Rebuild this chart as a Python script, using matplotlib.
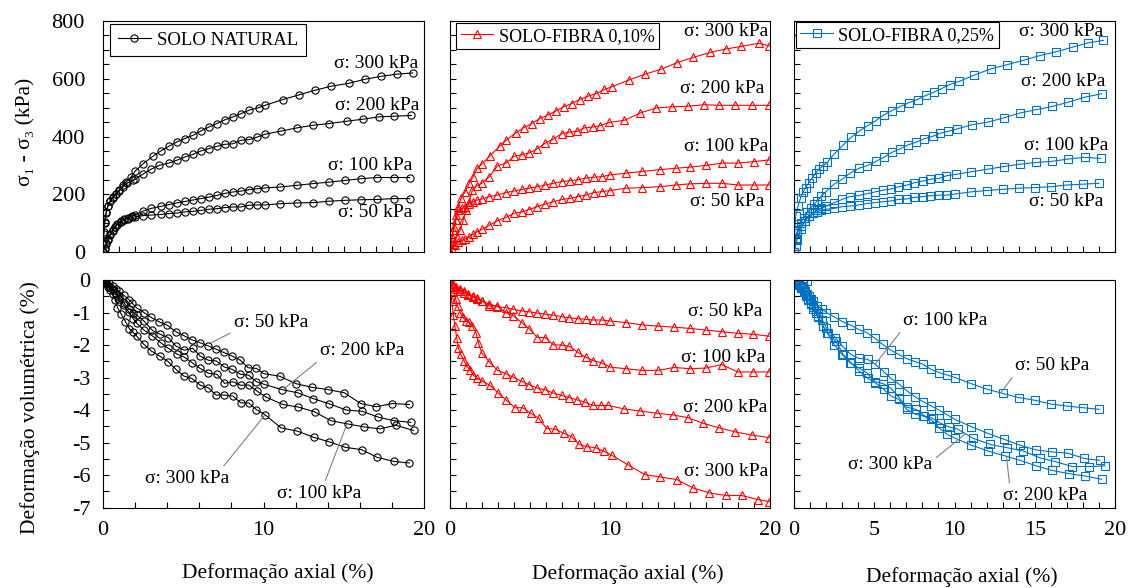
import matplotlib
matplotlib.use("Agg")
import matplotlib.pyplot as plt
from matplotlib.ticker import MultipleLocator, NullFormatter

plt.rcParams["font.family"] = ["Liberation Serif", "DejaVu Serif"]
plt.rcParams["axes.unicode_minus"] = False

BLACK, RED, BLUE = "#000000", "#FF0000", "#0070C0"
PRESSURES = ["50", "100", "200", "300"]

# ---- SOLO NATURAL: deviator stress (kPa) vs axial strain (%) ----
nat_q_x50 = [0, 0.1, 0.2, 0.3, 0.45, 0.6, 0.75, 0.9, 1.1, 1.3, 1.55, 1.8, 2.0, 2.5, 3.0, 3.6, 4.1, 4.6, 5.1, 5.6,
             6.1, 6.6, 7.1, 7.6, 8.1, 8.6, 9.1, 9.6, 10.1, 11.0, 12.1, 13.1, 14.1, 15.1, 16.1, 17.1, 18.1, 19.1]
nat_q_y50 = [0, 12, 28, 42, 60, 72, 85, 95, 103, 110, 116, 120, 122, 126, 128, 130, 133, 135, 139, 141,
             144, 148, 150, 154, 156, 156, 162, 163, 163, 167, 170, 171, 176, 179, 181, 182, 185, 185]
nat_q_x100 = [0, 0.1, 0.2, 0.3, 0.45, 0.6, 0.75, 0.9, 1.1, 1.3, 1.55, 1.8, 2.0, 2.5, 3.0, 3.6, 4.1, 4.6, 5.1, 5.6,
              6.1, 6.6, 7.1, 7.6, 8.1, 8.6, 9.1, 9.6, 10.1, 11.0, 12.1, 13.1, 14.1, 15.1, 16.1, 17.1, 18.1, 19.1]
nat_q_y100 = [0, 13, 30, 45, 62, 75, 88, 98, 106, 113, 119, 124, 128, 142, 151, 158, 164, 170, 175, 180,
              185, 190, 196, 203, 208, 211, 216, 219, 222, 225, 231, 237, 242, 248, 254, 258, 258, 258]
nat_q_x200 = [0, 0.05, 0.1, 0.2, 0.3, 0.45, 0.6, 0.8, 1.0, 1.25, 1.5, 1.85, 2.0, 2.5, 3.0, 3.5, 4.1, 4.6, 5.1,
              5.6, 6.1, 6.6, 7.1, 7.6, 8.1, 8.6, 9.1, 9.6, 10.1, 11.1, 12.1, 13.1, 14.1, 15.2, 16.2, 17.2, 18.1, 19.2]
nat_q_y200 = [0, 64, 100, 135, 158, 175, 188, 200, 211, 226, 238, 248, 252, 270, 287, 300, 308, 318, 329,
              338, 350, 358, 366, 373, 375, 387, 389, 398, 408, 419, 430, 439, 445, 453, 460, 468, 470, 473]
nat_q_x300 = [0, 0.05, 0.1, 0.2, 0.3, 0.45, 0.6, 0.8, 1.0, 1.25, 1.45, 1.75, 2.0, 2.5, 3.1, 3.6, 4.1, 4.6, 5.1,
              5.6, 6.1, 6.6, 7.1, 7.6, 8.1, 8.6, 9.1, 9.7, 10.1, 11.2, 12.2, 13.2, 14.2, 15.3, 16.3, 17.3, 18.3, 19.3]
nat_q_y300 = [0, 70, 103, 138, 160, 178, 190, 202, 214, 231, 242, 260, 280, 306, 331, 350, 366, 381, 393,
              404, 419, 433, 445, 458, 468, 479, 491, 500, 508, 528, 544, 560, 574, 584, 598, 608, 616, 620]

# ---- SOLO NATURAL: volumetric strain (%) ----
nat_v_x50 = [0, 0.2, 0.4, 0.6, 0.8, 1.0, 1.3, 1.6, 1.8, 2.1, 2.55, 3.0, 3.5, 4.0, 4.54, 5.06, 5.54, 6.05, 6.57,
             7.05, 7.53, 8.05, 8.56, 9.04, 9.56, 10.0, 11.0, 12.03, 13.0, 14.0, 15.04, 16.05, 17.03, 18.03, 19.08]
nat_v_y50 = [0, -0.05, -0.1, -0.18, -0.27, -0.35, -0.47, -0.6, -0.7, -0.86, -1.0, -1.15, -1.29, -1.39, -1.59,
             -1.72, -1.84, -1.93, -2.03, -2.13, -2.23, -2.34, -2.47, -2.7, -2.72, -2.88, -2.96, -3.19, -3.3,
             -3.37, -3.47, -3.8, -3.9, -3.8, -3.83]
nat_v_x100 = [0, 0.2, 0.4, 0.6, 0.8, 1.0, 1.3, 1.6, 1.9, 2.1, 2.55, 3.08, 3.6, 4.06, 4.58, 5.06, 5.54, 6.05,
              6.57, 7.1, 7.57, 8.1, 8.58, 9.08, 9.6, 10.15, 11.2, 12.18, 13.2, 14.2, 15.25, 16.26, 17.26, 18.24, 19.35]
nat_v_y100 = [0, -0.1, -0.2, -0.32, -0.45, -0.58, -0.78, -0.98, -1.2, -1.33, -1.54, -1.72, -1.93, -2.1, -2.27,
              -2.37, -2.54, -2.72, -2.87, -2.9, -3.18, -3.13, -3.24, -3.23, -3.42, -3.6, -3.83, -3.91, -4.06,
              -4.33, -4.43, -4.52, -4.58, -4.47, -4.63]
nat_v_x200 = [0, 0.2, 0.4, 0.6, 0.8, 1.0, 1.3, 1.6, 1.9, 2.1, 2.55, 3.08, 3.56, 4.06, 4.54, 5.06, 5.59, 6.05,
              6.57, 7.05, 7.57, 8.05, 8.56, 9.08, 9.56, 10.04, 11.13, 12.13, 13.1, 14.1, 15.15, 16.15, 17.15, 18.14, 19.18]
nat_v_y200 = [0, -0.08, -0.17, -0.28, -0.4, -0.52, -0.7, -0.88, -1.0, -1.08, -1.26, -1.55, -1.67, -1.77, -2.03,
              -2.16, -2.1, -2.34, -2.47, -2.49, -2.68, -2.75, -2.9, -2.93, -3.13, -3.21, -3.37, -3.47, -3.65,
              -3.81, -4.0, -4.04, -4.22, -4.33, -4.38]
nat_v_x300 = [0, 0.15, 0.3, 0.45, 0.6, 0.75, 0.9, 1.14, 1.4, 1.65, 1.85, 2.09, 2.55, 3.0, 3.53, 4.06, 4.54,
              5.06, 5.54, 6.07, 6.57, 7.05, 7.57, 8.1, 8.58, 9.08, 9.56, 10.08, 11.09, 12.11, 13.12, 14.1, 15.1,
              16.11, 17.1, 18.1, 19.08]
nat_v_y300 = [0, -0.1, -0.2, -0.3, -0.42, -0.6, -0.85, -1.05, -1.28, -1.5, -1.6, -1.72, -1.98, -2.18, -2.34,
              -2.51, -2.75, -2.96, -3.03, -3.24, -3.32, -3.54, -3.54, -3.57, -3.78, -3.78, -3.99, -4.14, -4.55,
              -4.65, -4.84, -4.98, -5.15, -5.22, -5.46, -5.58, -5.63]

# ---- SOLO-FIBRA 0,10%: deviator stress ----
f10_q_x50 = [0, 0.1, 0.3, 0.52, 0.73, 0.95, 1.2, 1.45, 1.7, 1.98, 2.46, 2.96, 3.5, 4.0, 4.5, 4.95, 5.45, 5.95,
             6.45, 7.0, 7.5, 8.0, 8.5, 9.0, 9.5, 10.0, 11.0, 12.0, 13.1, 14.1, 15.0, 16.0, 17.0, 18.0, 19.0, 19.96]
f10_q_y50 = [0, 12, 23, 35, 41, 46, 52, 62, 70, 78, 93, 108, 120, 134, 139, 147, 157, 166,
             174, 182, 186, 192, 197, 206, 209, 213, 221, 223, 226, 232, 236, 238, 238, 232, 232, 232]
f10_q_x100 = [0, 0.2, 0.37, 0.52, 0.73, 0.95, 1.2, 1.45, 1.7, 1.98, 2.46, 2.96, 3.5, 4.0, 4.5, 4.95, 5.45, 5.95,
              6.45, 7.0, 7.5, 8.0, 8.5, 9.0, 9.5, 10.0, 11.0, 12.0, 13.1, 14.1, 15.0, 16.0, 17.0, 18.0, 19.0, 19.96]
f10_q_y100 = [0, 75, 110, 145, 151, 157, 168, 174, 180, 183, 192, 197, 206, 211, 217, 221, 226, 232,
              238, 244, 247, 250, 256, 259, 261, 267, 273, 279, 285, 290, 294, 300, 308, 308, 313, 319]
f10_q_x200 = [0, 0.2, 0.42, 0.63, 0.83, 1.0, 1.2, 1.4, 1.67, 1.98, 2.46, 2.96, 3.5, 4.0, 4.5, 4.95, 5.45, 5.95,
              6.45, 6.98, 7.45, 7.95, 8.4, 8.95, 9.4, 9.95, 10.9, 11.9, 12.9, 13.9, 14.9, 15.9, 16.8, 17.8, 18.9, 19.96]
f10_q_y200 = [0, 29, 52, 75, 110, 145, 174, 215, 229, 238, 261, 298, 308, 331, 337, 343, 357, 377,
              391, 410, 415, 418, 430, 433, 438, 449, 456, 482, 499, 503, 505, 510, 508, 508, 508, 508]
f10_q_x300 = [0, 0.12, 0.25, 0.37, 0.5, 0.7, 0.95, 1.2, 1.45, 1.7, 2.0, 2.5, 3.1, 3.5, 4.1, 4.6, 5.1, 5.6, 6.1,
              6.6, 7.1, 7.6, 8.1, 8.65, 9.1, 9.65, 10.15, 11.2, 12.2, 13.2, 14.2, 15.2, 16.25, 17.25, 18.2, 19.3, 19.96]
f10_q_y300 = [0, 52, 87, 128, 157, 186, 209, 238, 261, 290, 305, 333, 366, 387, 412, 430, 445, 462, 474,
              488, 503, 514, 528, 540, 548, 563, 573, 596, 616, 633, 656, 674, 691, 703, 712, 723, 714]

# ---- SOLO-FIBRA 0,10%: volumetric strain ----
f10_v_x50 = [0, 0.17, 0.38, 0.63, 0.9, 1.15, 1.42, 1.67, 1.98, 2.46, 2.96, 3.48, 3.96, 4.48, 4.96, 5.46, 5.96,
             6.46, 6.98, 7.46, 7.98, 8.48, 8.96, 9.48, 10.0, 11.0, 11.98, 13.02, 14.02, 15.0, 15.98, 16.98, 17.98,
             18.96, 19.96]
f10_v_y50 = [0, -0.18, -0.28, -0.33, -0.41, -0.46, -0.52, -0.59, -0.64, -0.74, -0.82, -0.85, -0.9, -0.95, -0.98,
             -1.02, -1.05, -1.08, -1.13, -1.16, -1.19, -1.21, -1.23, -1.23, -1.26, -1.31, -1.38, -1.42, -1.45,
             -1.49, -1.54, -1.59, -1.64, -1.67, -1.73]
f10_v_x100 = [0, 0.17, 0.38, 0.63, 0.9, 1.15, 1.42, 1.67, 1.98, 2.46, 2.96, 3.48, 3.96, 4.48, 4.96, 5.46, 5.96,
              6.46, 6.98, 7.46, 7.98, 8.48, 8.96, 9.48, 10.0, 11.0, 11.98, 13.02, 14.02, 15.0, 15.98, 16.98,
              17.98, 18.96, 19.96]
f10_v_y100 = [0, -0.12, -0.21, -0.28, -0.33, -0.43, -0.49, -0.56, -0.64, -0.8, -0.8, -1.0, -1.1, -1.31, -1.5,
              -1.77, -1.77, -2.0, -2.0, -2.04, -2.22, -2.38, -2.48, -2.55, -2.68, -2.73, -2.78, -2.78, -2.69,
              -2.73, -2.71, -2.6, -2.83, -2.83, -2.83]
f10_v_x200 = [0, 0.21, 0.35, 0.48, 0.63, 0.79, 1.0, 1.21, 1.4, 1.63, 1.77, 1.98, 2.46, 2.96, 3.48, 3.96, 4.48,
              4.96, 5.46, 5.96, 6.46, 6.98, 7.46, 7.96, 8.44, 8.96, 9.44, 9.9, 10.9, 11.88, 12.92, 13.92, 14.9,
              15.83, 16.83, 17.8, 18.85, 19.96]
f10_v_y200 = [0, -0.33, -0.59, -0.8, -1.0, -1.14, -1.26, -1.29, -1.42, -1.62, -1.93, -2.24, -2.52, -2.78, -2.88,
              -2.99, -3.12, -3.22, -3.33, -3.38, -3.48, -3.55, -3.62, -3.69, -3.76, -3.86, -3.86, -3.86, -3.97,
              -4.03, -4.1, -4.15, -4.24, -4.41, -4.55, -4.67, -4.77, -4.85]
f10_v_x300 = [0, 0.1, 0.21, 0.31, 0.42, 0.52, 0.67, 0.88, 1.04, 1.25, 1.46, 1.71, 1.98, 2.5, 3.02, 3.5, 4.06,
              4.54, 5.04, 5.56, 6.04, 6.56, 7.13, 7.6, 8.08, 8.58, 9.1, 9.63, 10.1, 11.1, 12.19, 13.13, 14.17,
              15.2, 16.2, 17.23, 18.23, 19.27, 19.96]
f10_v_y300 = [0, -0.64, -1.07, -1.42, -1.78, -2.09, -2.29, -2.48, -2.65, -2.76, -2.93, -3.02, -3.1, -3.24,
              -3.48, -3.69, -3.93, -3.93, -4.1, -4.26, -4.57, -4.59, -4.72, -4.82, -5.06, -5.13, -5.16, -5.27,
              -5.39, -5.68, -5.99, -6.06, -6.14, -6.4, -6.55, -6.63, -6.63, -6.76, -6.82]

# ---- SOLO-FIBRA 0,25%: deviator stress ----
f25_q_x50 = [0, 0.1, 0.2, 0.41, 0.66, 0.93, 1.2, 1.45, 1.7, 2.0, 2.5, 3.0, 3.5, 4.04, 4.56, 5.04, 5.55, 6.05,
             6.5, 7.05, 7.5, 8.04, 8.5, 9.05, 9.5, 10.05, 11.0, 12.0, 13.0, 14.0, 15.0, 16.0, 17.0, 18.03, 19.0]
f25_q_y50 = [0, 22, 43, 78, 107, 124, 134, 139, 145, 148, 151, 157, 159, 163, 168, 171, 174, 177,
             182, 184, 189, 192, 195, 197, 197, 201, 208, 213, 217, 221, 223, 226, 232, 235, 238]
f25_q_x100 = [0, 0.1, 0.2, 0.41, 0.66, 0.93, 1.2, 1.45, 1.7, 2.0, 2.5, 3.0, 3.5, 4.04, 4.56, 5.04, 5.55, 6.05,
              6.5, 7.05, 7.5, 8.04, 8.5, 9.05, 9.5, 10.1, 11.05, 12.1, 13.06, 14.05, 15.07, 16.06, 17.1, 18.1, 19.1]
f25_q_y100 = [0, 40, 66, 89, 107, 124, 136, 145, 151, 159, 171, 182, 192, 196, 202, 208, 214, 218,
              226, 232, 240, 246, 252, 255, 264, 269, 278, 287, 296, 304, 310, 314, 322, 328, 324]
f25_q_x200 = [0, 0.1, 0.2, 0.41, 0.62, 0.83, 1.04, 1.24, 1.45, 1.7, 1.97, 2.5, 3.0, 3.5, 4.04, 4.56, 5.1, 5.6,
              6.1, 6.6, 7.1, 7.6, 8.1, 8.65, 9.1, 9.6, 10.15, 11.1, 12.1, 13.1, 14.05, 15.1, 16.1, 17.1, 18.1, 19.17]
f25_q_y200 = [0, 45, 72, 101, 118, 138, 153, 165, 177, 194, 208, 235, 252, 273, 290, 299, 314, 328,
              345, 357, 371, 380, 392, 401, 411, 418, 426, 441, 450, 465, 481, 493, 504, 519, 536, 548]
f25_q_x300 = [0, 0.05, 0.1, 0.25, 0.41, 0.58, 0.72, 0.93, 1.14, 1.35, 1.55, 1.8, 2.07, 2.5, 3.07, 3.56, 4.1, 4.6,
              5.1, 5.6, 6.1, 6.6, 7.15, 7.7, 8.2, 8.7, 9.2, 9.7, 10.3, 11.2, 12.3, 13.3, 14.3, 15.3, 16.3, 17.4,
              18.3, 19.27]
f25_q_y300 = [0, 75, 124, 159, 188, 208, 223, 240, 258, 273, 287, 298, 310, 339, 371, 397, 420, 438,
              455, 475, 490, 503, 517, 528, 542, 553, 566, 580, 591, 612, 635, 649, 664, 680, 693, 710,
              724, 733]

# ---- SOLO-FIBRA 0,25%: volumetric strain ----
f25_v_x50 = [0, 0.1, 0.21, 0.32, 0.42, 0.55, 0.69, 0.82, 0.94, 1.08, 1.21, 1.46, 1.73, 2.02, 2.5, 3.02, 3.54,
             4.02, 4.54, 5.04, 5.52, 6.04, 6.52, 7.02, 7.54, 8.02, 8.54, 9.06, 9.52, 10.04, 11.04, 12.02, 13.02,
             14.02, 15.0, 16.04, 17.02, 18.02, 19.02]
f25_v_y50 = [0, -0.04, -0.08, -0.13, -0.18, -0.26, -0.34, -0.42, -0.49, -0.57, -0.65, -0.8, -0.88, -1.0, -1.13,
             -1.28, -1.39, -1.52, -1.62, -1.79, -1.98, -2.16, -2.29, -2.42, -2.51, -2.59, -2.75, -2.85, -2.92,
             -3.0, -3.19, -3.36, -3.49, -3.62, -3.7, -3.82, -3.88, -3.93, -3.98]
f25_v_x100 = [0, 0.15, 0.3, 0.45, 0.6, 0.83, 1.0, 1.2, 1.5, 1.75, 2.02, 2.56, 3.02, 3.54, 4.02, 4.58, 5.06,
              5.58, 6.04, 6.56, 7.04, 7.56, 8.02, 8.54, 9.06, 9.55, 10.04, 11.04, 12.08, 13.08, 14.06, 15.1,
              16.08, 17.08, 18.06, 19.06]
f25_v_y100 = [0, -0.05, -0.12, -0.2, -0.3, -0.03, -0.6, -0.78, -1.0, -1.22, -1.47, -1.77, -2.03, -2.29, -2.41,
              -2.44, -2.59, -2.82, -3.03, -3.21, -3.41, -3.6, -3.74, -3.87, -4.01, -4.15, -4.29, -4.51, -4.72,
              -4.9, -5.08, -5.23, -5.29, -5.33, -5.49, -5.55]
f25_v_x200 = [0, 0.15, 0.3, 0.45, 0.6, 0.75, 0.9, 1.05, 1.2, 1.35, 1.5, 1.8, 2.1, 2.6, 3.06, 3.54, 4.06, 4.58,
              5.06, 5.58, 6.04, 6.52, 7.02, 7.56, 8.02, 8.54, 9.06, 9.54, 10.04, 11.04, 12.08, 13.13, 14.1, 15.1,
              16.08, 17.14, 18.13, 19.17]
f25_v_y200 = [0, -0.07, -0.15, -0.26, -0.38, -0.5, -0.62, -0.75, -0.88, -1.0, -1.15, -1.42, -1.62, -1.88, -2.29,
              -2.54, -2.8, -3.02, -3.16, -3.36, -3.57, -3.67, -3.98, -4.13, -4.18, -4.29, -4.56, -4.75, -4.87,
              -5.08, -5.26, -5.41, -5.55, -5.72, -5.86, -5.96, -6.03, -6.13]
f25_v_x300 = [0, 0.15, 0.3, 0.45, 0.6, 0.75, 0.9, 1.05, 1.2, 1.35, 1.5, 1.8, 2.05, 2.52, 3.02, 3.5, 4.02, 4.52,
              5.06, 5.56, 6.04, 6.56, 7.02, 7.6, 8.13, 8.65, 9.1, 9.65, 10.21, 11.15, 12.23, 13.27, 14.27, 15.31,
              16.29, 17.35, 18.38, 19.38]
f25_v_y300 = [0, -0.07, -0.15, -0.25, -0.35, -0.46, -0.58, -0.7, -0.82, -0.96, -1.1, -1.4, -1.62, -2.0, -2.3,
              -2.55, -2.7, -2.85, -3.13, -3.19, -3.33, -3.62, -3.91, -3.98, -4.18, -4.26, -4.4, -4.52, -4.59,
              -4.87, -5.06, -5.16, -5.26, -5.47, -5.59, -5.74, -5.74, -5.72]

panels = [
    # (color, marker, legend label, stress curves, volume curves)
    (BLACK, "o", "SOLO NATURAL",
     [(nat_q_x50, nat_q_y50), (nat_q_x100, nat_q_y100), (nat_q_x200, nat_q_y200), (nat_q_x300, nat_q_y300)],
     [(nat_v_x50, nat_v_y50), (nat_v_x100, nat_v_y100), (nat_v_x200, nat_v_y200), (nat_v_x300, nat_v_y300)]),
    (RED, "^", "SOLO-FIBRA 0,10%",
     [(f10_q_x50, f10_q_y50), (f10_q_x100, f10_q_y100), (f10_q_x200, f10_q_y200), (f10_q_x300, f10_q_y300)],
     [(f10_v_x50, f10_v_y50), (f10_v_x100, f10_v_y100), (f10_v_x200, f10_v_y200), (f10_v_x300, f10_v_y300)]),
    (BLUE, "s", "SOLO-FIBRA 0,25%",
     [(f25_q_x50, f25_q_y50), (f25_q_x100, f25_q_y100), (f25_q_x200, f25_q_y200), (f25_q_x300, f25_q_y300)],
     [(f25_v_x50, f25_v_y50), (f25_v_x100, f25_v_y100), (f25_v_x200, f25_v_y200), (f25_v_x300, f25_v_y300)]),
]

# label placement, top row: (x right edge, y centre) per pressure
top_labels = [
    {"300": (19.63, 652), "200": (19.69, 507), "100": (19.3, 300), "50": (19.3, 138)},
    {"300": (19.88, 762), "200": (19.63, 567), "100": (19.88, 365), "50": (19.63, 174)},
    {"300": (19.25, 765), "200": (19.38, 591), "100": (19.57, 369), "50": (19.25, 174)},
]
# bottom row: (text centre, point on curve or None, relpos of leader start)
bottom_labels = [
    {"50": ((10.5, -1.31), (6.74, -1.93), (0, 0)),
     "200": ((16.17, -2.18), (11.34, -3.32), (0, 0)),
     "300": ((5.23, -6.1), (10.08, -4.16), (0.9, 1)),
     "100": ((13.49, -6.56), (15.2, -4.43), (0.55, 1))},
    {"50": ((17.2, -0.97), None, None),
     "100": ((17.05, -2.39), None, None),
     "200": ((17.2, -3.91), None, None),
     "300": ((17.27, -5.89), None, None)},
    {"100": ((9.41, -1.24), (5.06, -2.59), (0, 0)),
     "50": ((16.09, -2.62), (12.9, -3.46), (0, 0)),
     "300": ((6.0, -5.67), (10.63, -4.75), (1, 0.7)),
     "200": ((15.66, -6.63), (13.23, -5.41), (0.08, 1))},
]

fig = plt.figure(figsize=(11.31, 5.88), dpi=100)
lefts = [103 / 1131, 450 / 1131, 794 / 1131]
widths = [321 / 1131, 320 / 1131, 321 / 1131]
legend_anchor = [(0.022, 0.987), (0.019, 0.99), (0.006, 0.995)]
vol_xlabel_step = [10, 10, 5]
vol_xminor = [2, 1, 1]
xlabel_pos = [(278, 573), (628, 574), (962, 577)]

style = dict(lw=0.8, ms=5.2, mew=0.8, mfc="none")
tick_kw = dict(direction="in", length=4, width=0.8, labelsize=16, top=False, right=False)

for i, (color, marker, name, qcurves, vcurves) in enumerate(panels):
    axq = fig.add_axes([lefts[i], 0.5714, widths[i], 0.3929])
    axv = fig.add_axes([lefts[i], 0.1369, widths[i], 0.3869])

    for p, (x, y) in zip(PRESSURES, qcurves):
        axq.plot(x, y, color=color, marker=marker, label=name if p == "50" else None, **style)
        tx, ty = top_labels[i][p]
        axq.text(tx, ty, f"σ: {p} kPa", ha="right", va="center", fontsize=14)
    for p, (x, y) in zip(PRESSURES, vcurves):
        axv.plot(x, y, color=color, marker=marker, **style)
        txt, xy, rel = bottom_labels[i][p]
        if xy is None:
            axv.text(*txt, f"σ: {p} kPa", ha="center", va="center", fontsize=14)
        else:
            axv.annotate(f"σ: {p} kPa", xy=xy, xytext=txt, ha="center", va="center", fontsize=14,
                         arrowprops=dict(arrowstyle="-", color="#808080", lw=0.8, relpos=rel,
                                         shrinkA=1, shrinkB=0))

    axq.set_xlim(0, 20)
    axq.set_ylim(0, 800)
    axq.xaxis.set_major_locator(MultipleLocator(1))
    axq.xaxis.set_major_formatter(NullFormatter())
    axq.yaxis.set_major_locator(MultipleLocator(200))
    axq.yaxis.set_minor_locator(MultipleLocator(50))
    axq.tick_params(which="both", **tick_kw)
    axq.tick_params(axis="y", which="major", pad=13)

    axv.set_xlim(0, 20)
    axv.set_ylim(-7, 0)
    axv.xaxis.set_major_locator(MultipleLocator(vol_xlabel_step[i]))
    axv.xaxis.set_minor_locator(MultipleLocator(vol_xminor[i]))
    axv.yaxis.set_major_locator(MultipleLocator(1))
    axv.yaxis.set_minor_locator(MultipleLocator(0.5))
    axv.tick_params(which="both", **tick_kw)
    axv.tick_params(axis="x", which="major", pad=10)
    axv.tick_params(axis="y", which="major", pad=9)

    if i > 0:
        axq.yaxis.set_major_formatter(NullFormatter())
        axv.yaxis.set_major_formatter(NullFormatter())

    for ax in (axq, axv):
        for s in ax.spines.values():
            s.set_linewidth(0.8)

    leg = axq.legend(loc="upper left", bbox_to_anchor=legend_anchor[i], borderaxespad=0,
                     fontsize=13.5 if i == 0 else 13, fancybox=False, framealpha=1, edgecolor="black",
                     handlelength=1.8, handletextpad=0.3, borderpad=0.4 if i == 0 else 0.25)
    leg.get_frame().set_linewidth(0.8)

    fx, fy = xlabel_pos[i]
    fig.text(fx / 1131, 1 - fy / 588, "Deformação axial (%)", ha="center", va="center", fontsize=15.5)

fig.text(26 / 1131, 1 - 132 / 588, "σ₁ - σ₃ (kPa)", rotation=90, ha="center", va="center", fontsize=15.5)
fig.text(30 / 1131, 1 - 408 / 588, "Deformação volumétrica (%)", rotation=90, ha="center", va="center",
         fontsize=15.5)

fig.savefig("out.png", dpi=100)
